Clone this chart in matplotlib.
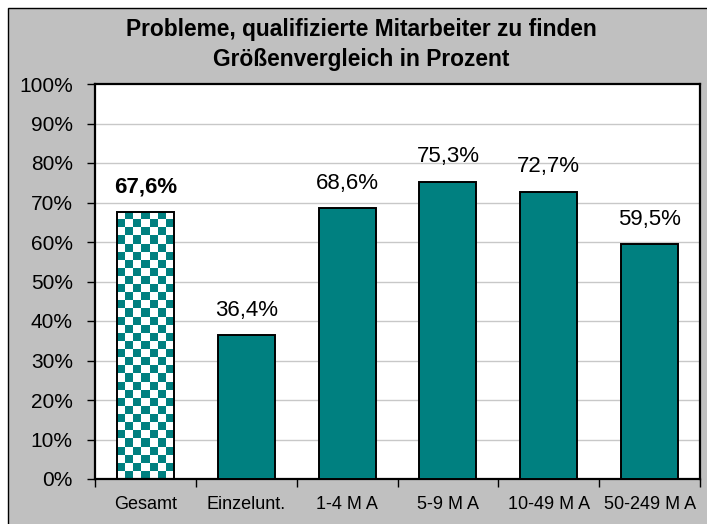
import numpy as np
import matplotlib
matplotlib.use("Agg")
import matplotlib.pyplot as plt
from matplotlib.patches import Rectangle
from matplotlib.colors import ListedColormap
from matplotlib.ticker import FixedLocator, FuncFormatter

plt.rcParams['font.family'] = ['Liberation Sans', 'DejaVu Sans']

categories = ["Gesamt", "Einzelunt.", "1-4 M A", "5-9 M A", "10-49 M A", "50-249 M A"]
values = [67.6, 36.4, 68.6, 75.3, 72.7, 59.5]
y_ticks = [0, 10, 20, 30, 40, 50, 60, 70, 80, 90, 100]
title_lines = ["Probleme, qualifizierte Mitarbeiter zu finden", "Größenvergleich in Prozent"]

TEAL = "#008080"
W, H = 707, 524
fig = plt.figure(figsize=(W / 100, H / 100), dpi=100)
fig.patch.set_facecolor("white")
fig.patches.append(Rectangle((8 / W, -0.05), 1.1, 1.05 - 8 / H, transform=fig.transFigure,
                             facecolor="#c0c0c0", edgecolor="black", linewidth=1.0, zorder=-5))

ax = fig.add_axes([95 / W, (H - 479) / H, 605 / W, 395 / H])
ax.set_zorder(2)
ax.set_facecolor("white")
x = np.arange(len(categories))
ax.set_xlim(-0.5, len(categories) - 0.5)
ax.set_ylim(0, 100)

bars = ax.bar(x, values, width=0.565, color=TEAL, edgecolor="black", linewidth=1.4, zorder=3)

# checkered first bar (cells of about 8 px)
b0 = bars[0]
b0.set_facecolor("none")
bb = b0.get_window_extent()
nx = max(1, int(round(bb.width / 8)))
ny = max(1, int(round(bb.height / 8)))
ii, jj = np.indices((ny, nx))
board = ((ii + jj) % 2).astype(float)
bx0, by0 = b0.get_x(), b0.get_y()
im = ax.imshow(board, cmap=ListedColormap(["white", TEAL]),
               extent=(bx0, bx0 + b0.get_width(), by0, by0 + b0.get_height()),
               aspect="auto", interpolation="nearest", zorder=2, origin="lower")
im.set_clip_path(b0)
ax.set_xlim(-0.5, len(categories) - 0.5)
ax.set_ylim(0, 100)

# labels
for i, (xi, v) in enumerate(zip(x, values)):
    ax.annotate(f"{v:.1f}%".replace(".", ","), (xi, v), xytext=(0, 14), textcoords="offset points",
                ha="center", va="baseline", fontsize=16, fontweight="bold" if i == 0 else "normal",
                color="black", zorder=5)

# grid
for yv in y_ticks[1:-1]:
    ax.axhline(yv, color="#c8c8c8", linewidth=1.0, zorder=1)

ax.yaxis.set_major_locator(FixedLocator(y_ticks))
ax.yaxis.set_major_formatter(FuncFormatter(lambda v, p: f"{int(v)}%"))
ax.tick_params(axis="y", direction="out", length=6, width=1, pad=10, labelsize=15, colors="black")

ax.set_xticks(x)
ax.set_xticklabels(categories)
ax.tick_params(axis="x", which="major", length=0, pad=12, labelsize=13)
ax.set_xticks(np.arange(-0.5, len(categories)), minor=True)
ax.tick_params(axis="x", which="minor", direction="out", length=6, width=1)

for s in ax.spines.values():
    s.set_color("black")
    s.set_linewidth(1.6)

fig.text(361 / W, 1 - 36 / H, title_lines[0], ha="center", va="baseline", fontsize=16.4, fontweight="bold")
fig.text(361 / W, 1 - 66 / H, title_lines[1], ha="center", va="baseline", fontsize=16.4, fontweight="bold")

fig.savefig("out.png", dpi=100, facecolor=fig.get_facecolor())
